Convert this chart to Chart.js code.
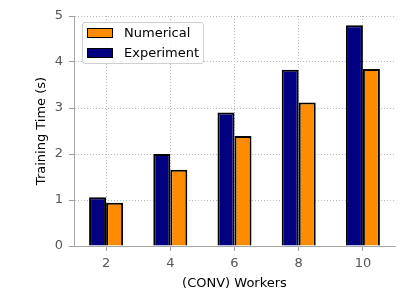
<!DOCTYPE html>
<html>
<head>
<meta charset="utf-8">
<script src="https://cdn.jsdelivr.net/npm/chart.js@4"></script>
<style>
  html, body { margin: 0; padding: 0; background: #fff; }
  #wrap { position: relative; width: 415px; height: 297px; }
  #legend {
    position: absolute; left: 82px; top: 22px; width: 120px; height: 40px;
    border: 1px solid #d0d0d0; border-radius: 3px; background: rgba(255,255,255,0.85);
    font-family: "DejaVu Sans", sans-serif; font-size: 13px; color: #000;
  }
  #legend .row { position: absolute; left: 0; height: 20px; line-height: 20px; white-space: nowrap; }
  #legend .sw { position: absolute; left: 4px; top: 5px; width: 24px; height: 8px; border: 1px solid #000; }
  #legend .tx { position: absolute; left: 41px; top: 0; }
</style>
</head>
<body>
<div id="wrap">
  <canvas id="barChart" width="415" height="297"></canvas>
  <div id="legend"></div>
</div>
<script>
var workers = ['2', '4', '6', '8', '10'];
var experiment = [1.06, 2.00, 2.90, 3.83, 4.80];
var numerical = [0.94, 1.66, 2.39, 3.12, 3.85];
var yTicks = [0, 1, 2, 3, 4, 5];

var data = {
    labels: workers,
    datasets: [{
        label: 'Experiment',
        data: experiment,
        backgroundColor: '#000080',
        borderColor: '#000',
        borderWidth: 2
    }, {
        label: 'Numerical',
        data: numerical,
        backgroundColor: '#ff8c00',
        borderColor: '#000',
        borderWidth: 2
    }]
};

var tickFont = { family: 'DejaVu Sans', size: 13 };

var config = {
    type: 'bar',
    data: data,
    options: {
        responsive: false,
        animation: false,
        layout: { padding: { left: 0, right: 20, top: 16, bottom: 0 } },
        datasets: { bar: { categoryPercentage: 0.53, barPercentage: 1.0, borderSkipped: 'start' } },
        plugins: { legend: { display: false }, tooltip: { enabled: false } },
        scales: {
            x: {
                offset: true,
                grid: { offset: false, color: '#b8b8b8', tickColor: '#a0a0a0', tickLength: 5, lineWidth: 1 },
                border: { color: '#a8a8a8', width: 1, dash: [1, 2] },
                ticks: { color: '#555', font: tickFont, padding: 5 },
                title: { display: true, text: '(CONV) Workers', color: '#000', font: tickFont, padding: { top: 0, bottom: 6 } },
                afterFit: function (s) { s.height = 51; }
            },
            y: {
                min: 0,
                max: 5,
                afterBuildTicks: function (s) { s.ticks = yTicks.map(function (v) { return { value: v }; }); },
                grid: { color: '#b8b8b8', tickColor: '#a0a0a0', tickLength: 5, lineWidth: 1 },
                border: { color: '#a8a8a8', width: 1, dash: [1, 2] },
                ticks: { color: '#555', font: tickFont, padding: 6 },
                title: { display: true, text: 'Training Time (s)', color: '#000', font: tickFont, padding: { top: 34, bottom: 0 } },
                afterFit: function (s) { s.width = 74; }
            }
        }
    }
};

var barChart = new Chart(document.getElementById('barChart'), config);

// legend inside the plot, same order as the original (Numerical on top)
var legend = document.getElementById('legend');
data.datasets.slice().reverse().forEach(function (ds, i) {
    var row = document.createElement('div');
    row.className = 'row';
    row.style.top = (i * 20) + 'px';
    row.innerHTML = '<span class="sw" style="background:' + ds.backgroundColor + '"></span><span class="tx">' + ds.label + '</span>';
    legend.appendChild(row);
});
</script>
</body>
</html>
